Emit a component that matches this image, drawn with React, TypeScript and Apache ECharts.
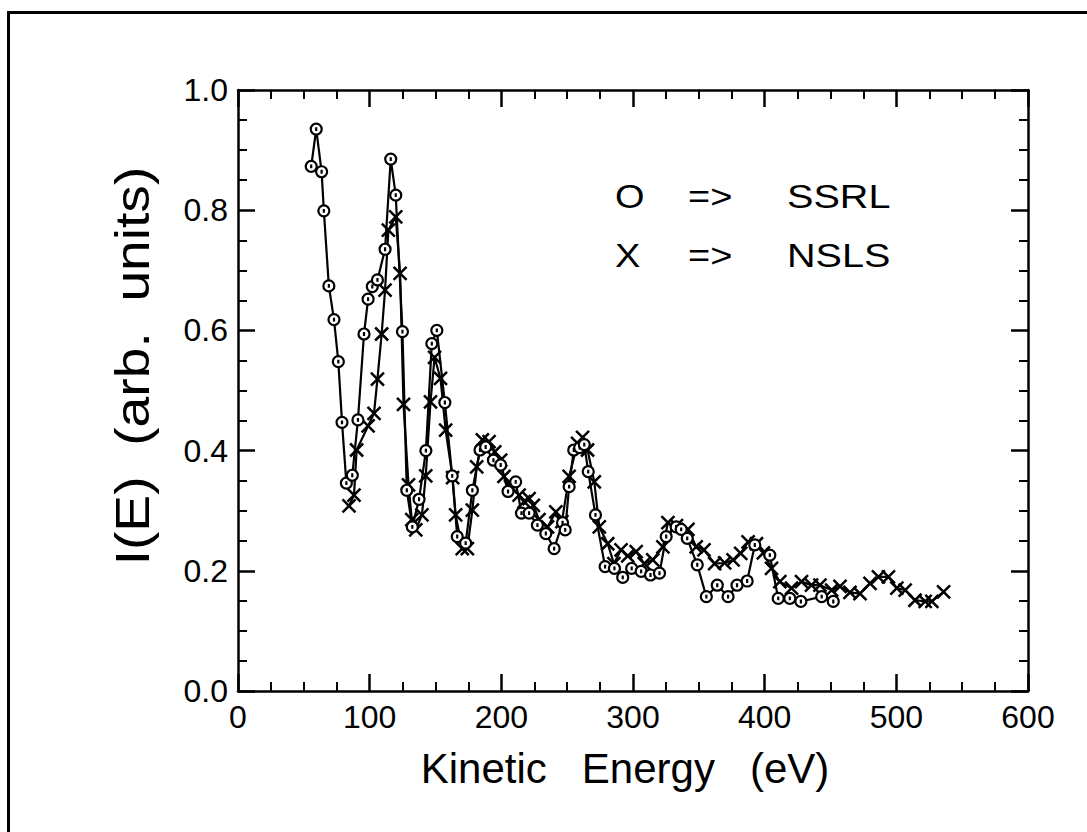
import React, { useEffect, useRef } from "react";
import * as echarts from "echarts";

// SSRL (circles): [kinetic energy eV, I(E)]
const ssrlEnergy = [55.6, 59.4, 63.5, 65.2, 69.0, 72.9, 76.2, 79.0, 82.3, 86.8, 91.1, 95.7, 98.8, 102.0, 105.9, 111.7, 116.0, 119.8, 124.9, 128.2, 132.4, 137.5, 142.7, 147.2, 151.0, 157.1, 162.7, 166.5, 172.9, 178.0, 183.8, 188.1, 194.0, 199.5, 205.1, 210.9, 215.3, 221.1, 227.4, 233.8, 240.1, 246.5, 248.5, 251.5, 255.0, 259.5, 263.0, 266.0, 271.5, 278.8, 285.9, 292.2, 299.0, 306.2, 313.3, 320.1, 325.2, 332.8, 336.6, 341.2, 348.8, 355.7, 364.0, 372.2, 379.0, 386.7, 392.5, 403.9, 410.3, 419.1, 427.5, 443.3, 452.1];
const ssrlValue = [0.873, 0.935, 0.864, 0.799, 0.674, 0.618, 0.548, 0.447, 0.346, 0.359, 0.451, 0.594, 0.652, 0.673, 0.684, 0.735, 0.885, 0.825, 0.598, 0.334, 0.273, 0.319, 0.400, 0.578, 0.600, 0.480, 0.358, 0.257, 0.246, 0.334, 0.401, 0.406, 0.384, 0.376, 0.332, 0.348, 0.296, 0.296, 0.276, 0.262, 0.237, 0.280, 0.268, 0.340, 0.401, 0.405, 0.410, 0.365, 0.293, 0.207, 0.204, 0.189, 0.204, 0.199, 0.193, 0.196, 0.257, 0.273, 0.269, 0.254, 0.210, 0.157, 0.176, 0.157, 0.176, 0.183, 0.243, 0.226, 0.154, 0.154, 0.149, 0.157, 0.149];

// NSLS (crosses)
const nslsEnergy = [84.3, 88.1, 90.1, 98.8, 103.3, 105.9, 109.1, 111.7, 114.2, 119.8, 123.1, 125.7, 129.5, 132.0, 135.0, 139.7, 142.6, 146.2, 149.3, 153.8, 157.7, 163.0, 165.3, 170.3, 174.2, 178.0, 181.3, 185.6, 190.7, 195.0, 199.5, 202.0, 207.0, 213.5, 217.3, 221.1, 224.3, 228.6, 235.1, 241.4, 246.0, 251.5, 257.9, 261.7, 265.5, 270.6, 274.4, 280.8, 285.5, 290.9, 296.0, 302.4, 308.5, 315.0, 322.7, 326.5, 333.0, 341.7, 348.0, 353.9, 362.0, 369.6, 376.0, 381.8, 387.4, 393.8, 399.0, 405.2, 411.5, 420.4, 428.0, 435.6, 442.0, 450.9, 457.2, 464.8, 472.4, 480.0, 486.4, 494.0, 500.4, 506.7, 514.2, 521.9, 527.0, 535.9];
const nslsValue = [0.308, 0.326, 0.401, 0.441, 0.462, 0.519, 0.594, 0.667, 0.767, 0.789, 0.695, 0.477, 0.343, 0.285, 0.268, 0.293, 0.358, 0.481, 0.555, 0.520, 0.434, 0.355, 0.293, 0.237, 0.237, 0.301, 0.373, 0.418, 0.415, 0.398, 0.384, 0.357, 0.340, 0.326, 0.315, 0.320, 0.309, 0.285, 0.273, 0.298, 0.282, 0.357, 0.412, 0.422, 0.401, 0.348, 0.273, 0.245, 0.212, 0.235, 0.225, 0.232, 0.212, 0.218, 0.240, 0.280, 0.275, 0.269, 0.240, 0.235, 0.212, 0.213, 0.218, 0.229, 0.248, 0.245, 0.230, 0.204, 0.182, 0.171, 0.182, 0.176, 0.176, 0.168, 0.174, 0.164, 0.162, 0.179, 0.190, 0.190, 0.171, 0.168, 0.151, 0.149, 0.149, 0.165];

const xTitle = "Kinetic   Energy   (eV)";
const yTitle = "I(E)  (arb.  units)";
const legendRows = [
  { mark: "O", arrow: "=>", name: "SSRL" },
  { mark: "X", arrow: "=>", name: "NSLS" },
];

const FONT = "Liberation Sans";
const circleSym = "path://M-1,0A1,1 0 1,1 1,0A1,1 0 1,1 -1,0ZM0,-0.35L0,0.35";
const crossSym = "path://M-1,-1L1,1M1,-1L-1,1";

export default function App() {
  const ref = useRef<HTMLDivElement>(null);
  useEffect(() => {
    if (!ref.current) return;
    const chart = echarts.init(ref.current, null, { renderer: "svg" });
    const axisCommon = {
      type: "value" as const,
      axisLine: { show: true, onZero: false, lineStyle: { color: "#000", width: 2.5 } },
      axisTick: { show: true, inside: true, length: 17, lineStyle: { color: "#000", width: 2.5 } },
      minorTick: { show: true, splitNumber: 4, length: 9, lineStyle: { color: "#000", width: 2 } },
      splitLine: { show: false },
    };
    const xBase = { ...axisCommon, min: 0, max: 600, interval: 100 };
    const yBase = { ...axisCommon, min: 0, max: 1.0, interval: 0.2 };
    chart.setOption({
      animation: false,
      backgroundColor: "#fff",
      grid: { left: 238, top: 90, width: 790, height: 601 },
      xAxis: [
        {
          ...xBase,
          position: "bottom",
          axisLabel: { show: true, color: "#000", fontSize: 32, fontFamily: FONT, margin: 10 },
        },
        { ...xBase, position: "top", axisLabel: { show: false } },
      ],
      yAxis: [
        {
          ...yBase,
          position: "left",
          axisLabel: {
            show: true, color: "#000", fontSize: 32, fontFamily: FONT, margin: 10,
            formatter: (v: number) => v.toFixed(1),
          },
        },
        { ...yBase, position: "right", axisLabel: { show: false } },
      ],
      series: [
        {
          name: "NSLS",
          type: "line",
          data: nslsEnergy.map((e, i) => [e, nslsValue[i]]),
          symbol: crossSym,
          symbolSize: 13,
          showAllSymbol: true,
          lineStyle: { color: "#000", width: 2.2 },
          itemStyle: { color: "#000", borderColor: "#000", borderWidth: 2.5 },
          z: 2,
        },
        {
          name: "SSRL",
          type: "line",
          data: ssrlEnergy.map((e, i) => [e, ssrlValue[i]]),
          symbol: circleSym,
          symbolSize: 11,
          showAllSymbol: true,
          lineStyle: { color: "#000", width: 2.2 },
          itemStyle: { color: "#fff", borderColor: "#000", borderWidth: 2.2 },
          z: 3,
        },
      ],
      graphic: [
        { type: "rect", shape: { x: 7, y: 11, width: 1080, height: 3 }, style: { fill: "#000" } },
        { type: "rect", shape: { x: 7, y: 11, width: 3, height: 821 }, style: { fill: "#000" } },
        {
          type: "text", x: 625, y: 768,
          style: { text: xTitle, fill: "#000", fontSize: 42, fontFamily: FONT, textAlign: "center", textVerticalAlign: "middle" },
        },
        {
          type: "text", x: 132, y: 366, rotation: Math.PI / 2, scaleX: 1.15,
          style: { text: yTitle, fill: "#000", fontSize: 48, fontFamily: FONT, textAlign: "center", textVerticalAlign: "middle" },
        },
        ...legendRows.flatMap((r, i) => {
          const y = 197 + i * 59;
          const st = { fill: "#000", fontSize: 33, fontFamily: FONT, textAlign: "left", textVerticalAlign: "middle" };
          return [
            { type: "text", x: 615, y, scaleX: 1.15, style: { ...st, text: r.mark } },
            { type: "text", x: 688, y, scaleX: 1.15, style: { ...st, text: r.arrow } },
            { type: "text", x: 787, y, scaleX: 1.2, style: { ...st, text: r.name } },
          ];
        }),
      ],
    });
    return () => chart.dispose();
  }, []);
  return (
    <div
      ref={ref}
      style={{ position: "absolute", left: 0, top: 0, width: 1087, height: 832, background: "#fff" }}
    />
  );
}
